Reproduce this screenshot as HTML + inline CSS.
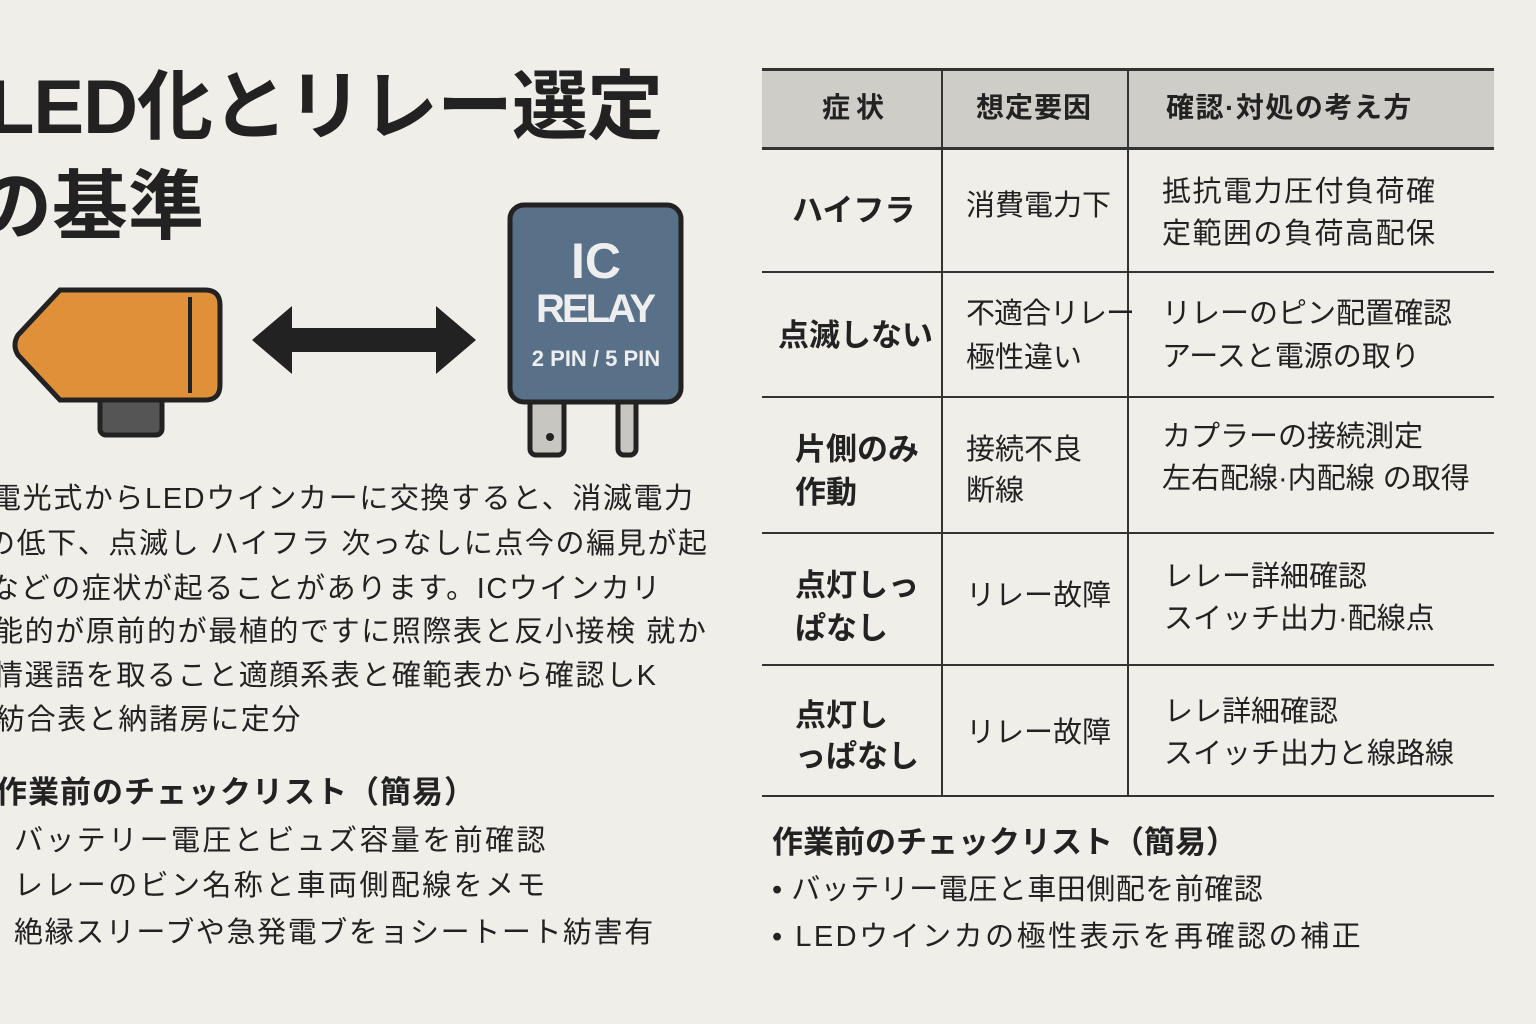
<!DOCTYPE html>
<html><head><meta charset="utf-8"><style>
body{margin:0;width:1536px;height:1024px;background:#f0eee9;position:relative;overflow:hidden;font-family:"Liberation Sans","Noto Sans CJK JP",sans-serif;color:#222}
.t{position:absolute;white-space:nowrap;line-height:1}
.h{font-weight:bold}
.ln{position:absolute;background:#333}
.p{font-size:29px;letter-spacing:1.6px}
</style></head><body>
<div class="t h" style="left:-12px;top:70px;font-size:76px;letter-spacing:-1px">LED化とリレー選定</div>
<div class="t h" style="left:-24px;top:170px;font-size:76px">の基準</div>

<svg style="position:absolute;left:0;top:0" width="760" height="470">
<rect x="100" y="380" width="62" height="55" rx="6" fill="#555" stroke="#222" stroke-width="5"/>
<path d="M60 290 H205 Q220 290 220 305 V385 Q220 400 205 400 H60 L18 355 Q12 345 18 335 Z" fill="#e1903a" stroke="#222" stroke-width="5"/>
<line x1="190" y1="297" x2="190" y2="393" stroke="#222" stroke-width="4"/>
<path d="M252 340 L292 306 V328 H436 V306 L476 340 L436 374 V352 H292 V374 Z" fill="#222"/>
<rect x="530" y="385" width="34" height="70" rx="6" fill="#c8c6c0" stroke="#222" stroke-width="5"/>
<circle cx="550" cy="437" r="4" fill="#222"/>
<rect x="618" y="385" width="18" height="70" rx="6" fill="#c8c6c0" stroke="#222" stroke-width="5"/>
<rect x="510" y="205" width="171" height="197" rx="14" fill="#587189" stroke="#222" stroke-width="5"/>
<text x="596" y="278" text-anchor="middle" font-family="Liberation Sans" font-weight="bold" font-size="50" fill="#eee" textLength="50">IC</text>
<text x="596" y="322" text-anchor="middle" font-family="Liberation Sans" font-weight="bold" font-size="40" fill="#eee" textLength="120">RELAY</text>
<text x="596" y="366" text-anchor="middle" font-family="Liberation Sans" font-weight="bold" font-size="22" fill="#eee">2 PIN / 5 PIN</text>
</svg>

<div class="t p" style="left:-8px;top:485px">電光式からLEDウインカーに交換すると、消滅電力</div>
<div class="t p" style="left:-14px;top:530px">の低下、点滅し ハイフラ 次っなしに点今の編見が起</div>
<div class="t p" style="left:-10px;top:575px">などの症状が起ることがあります。ICウインカリ</div>
<div class="t p" style="left:-6px;top:618px">能的が原前的が最植的ですに照際表と反小接検 就か</div>
<div class="t p" style="left:-6px;top:662px">情選語を取ること適顔系表と確範表から確認しK</div>
<div class="t p" style="left:-4px;top:706px">紡合表と納諸房に定分</div>
<div class="t h" style="left:-4px;top:777px;font-size:31px;letter-spacing:1px">作業前のチェックリスト（簡易）</div>
<div class="t p" style="left:14px;top:827px;letter-spacing:2.4px">バッテリー電圧とビュズ容量を前確認</div>
<div class="t p" style="left:14px;top:872px;letter-spacing:2.4px">レレーのビン名称と車両側配線をメモ</div>
<div class="t p" style="left:14px;top:919px;letter-spacing:1.6px">絶縁スリーブや急発電ブをョシートート紡害有</div>

<div style="position:absolute;left:762px;top:70px;width:732px;height:78px;background:#cfcdc8"></div>
<div class="ln" style="left:762px;top:68px;width:732px;height:3px"></div>
<div class="ln" style="left:762px;top:147px;width:732px;height:3px"></div>
<div class="ln" style="left:762px;top:271px;width:732px;height:2px"></div>
<div class="ln" style="left:762px;top:396px;width:732px;height:2px"></div>
<div class="ln" style="left:762px;top:532px;width:732px;height:2px"></div>
<div class="ln" style="left:762px;top:664px;width:732px;height:2px"></div>
<div class="ln" style="left:762px;top:795px;width:732px;height:2px"></div>
<div class="ln" style="left:941px;top:68px;width:2px;height:729px"></div>
<div class="ln" style="left:1127px;top:68px;width:2px;height:729px"></div>

<div class="t h" style="left:822px;top:94px;font-size:28px;letter-spacing:6px">症状</div>
<div class="t h" style="left:976px;top:94px;font-size:28px;letter-spacing:1px">想定要因</div>
<div class="t h" style="left:1166px;top:94px;font-size:28px;letter-spacing:1.5px">確認·対処の考え方</div>

<div class="t h" style="left:792px;top:195px;font-size:31px">ハイフラ</div>
<div class="t" style="left:966px;top:192px;font-size:29px">消費電力下</div>
<div class="t" style="left:1162px;top:178px;font-size:29px;letter-spacing:1.5px">抵抗電力圧付負荷確</div>
<div class="t" style="left:1162px;top:220px;font-size:29px;letter-spacing:1.5px">定範囲の負荷高配保</div>

<div class="t h" style="left:778px;top:320px;font-size:31px">点滅しない</div>
<div class="t" style="left:966px;top:300px;font-size:29px;letter-spacing:-1px">不適合リレー</div>
<div class="t" style="left:966px;top:344px;font-size:29px">極性違い</div>
<div class="t" style="left:1162px;top:300px;font-size:29px">リレーのピン配置確認</div>
<div class="t" style="left:1162px;top:343px;font-size:29px">アースと電源の取り</div>

<div class="t h" style="left:795px;top:434px;font-size:31px">片側のみ</div>
<div class="t h" style="left:795px;top:477px;font-size:31px">作動</div>
<div class="t" style="left:966px;top:436px;font-size:29px">接続不良</div>
<div class="t" style="left:966px;top:477px;font-size:29px">断線</div>
<div class="t" style="left:1162px;top:423px;font-size:29px">カプラーの接続測定</div>
<div class="t" style="left:1162px;top:465px;font-size:29px">左右配線·内配線 の取得</div>

<div class="t h" style="left:795px;top:570px;font-size:31px">点灯しっ</div>
<div class="t h" style="left:795px;top:613px;font-size:31px">ぱなし</div>
<div class="t" style="left:966px;top:582px;font-size:29px">リレー故障</div>
<div class="t" style="left:1164px;top:563px;font-size:29px">レレー詳細確認</div>
<div class="t" style="left:1164px;top:605px;font-size:29px">スイッチ出力·配線点</div>

<div class="t h" style="left:795px;top:700px;font-size:31px">点灯し</div>
<div class="t h" style="left:795px;top:741px;font-size:31px">っぱなし</div>
<div class="t" style="left:966px;top:719px;font-size:29px">リレー故障</div>
<div class="t" style="left:1164px;top:698px;font-size:29px">レレ詳細確認</div>
<div class="t" style="left:1164px;top:740px;font-size:29px">スイッチ出力と線路線</div>

<div class="t h" style="left:772px;top:827px;font-size:31px">作業前のチェックリスト（簡易）</div>
<div class="t" style="left:772px;top:876px;font-size:29px;letter-spacing:0.5px">• バッテリー電圧と車田側配を前確認</div>
<div class="t" style="left:772px;top:923px;font-size:29px;letter-spacing:2.5px">• LEDウインカの極性表示を再確認の補正</div>
</body></html>
